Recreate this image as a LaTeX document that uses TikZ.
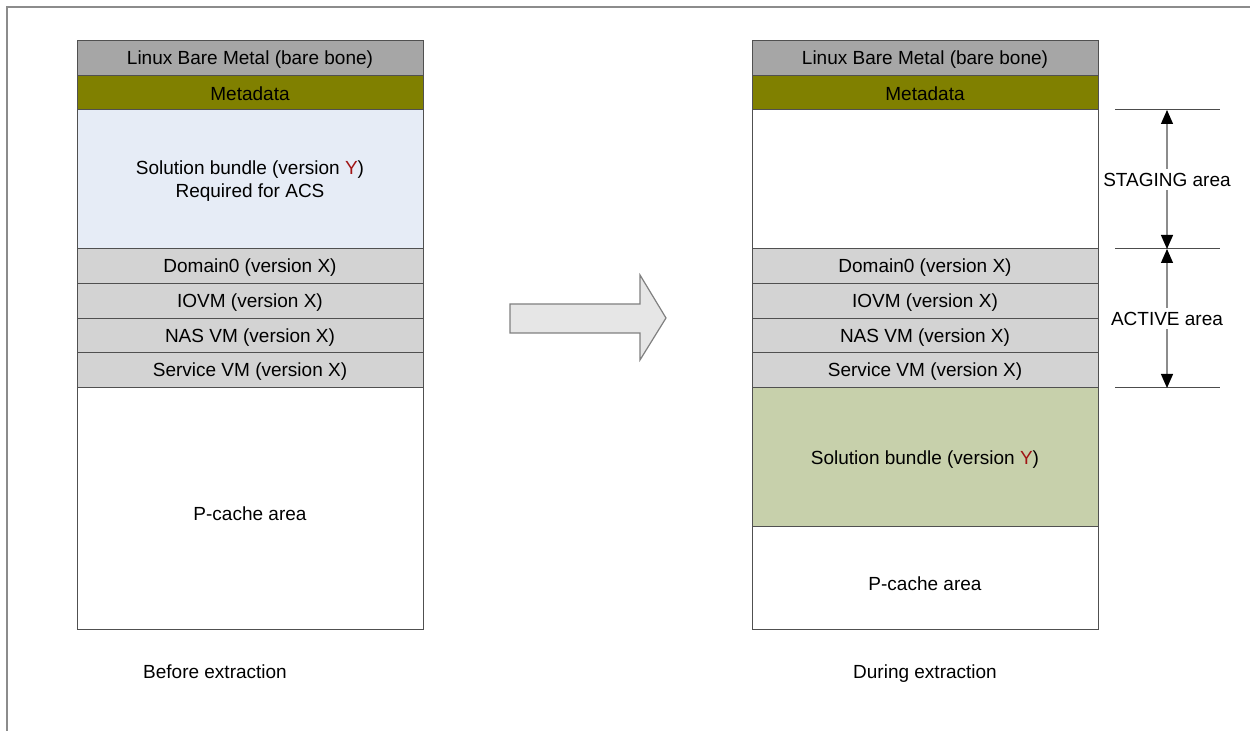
\documentclass[tikz,border=0pt]{standalone}
\usepackage{fontspec}
\setmainfont{Liberation Sans}
\usetikzlibrary{arrows.meta}
\definecolor{linuxgray}{HTML}{A6A6A6}
\definecolor{metaolive}{HTML}{808000}
\definecolor{solblue}{HTML}{E6ECF6}
\definecolor{vmgray}{HTML}{D3D3D3}
\definecolor{solgreen}{HTML}{C7D0AB}
\definecolor{yred}{HTML}{A01515}
\definecolor{framegray}{HTML}{8C8C8C}
\definecolor{boxline}{HTML}{505050}
\definecolor{arrowfill}{HTML}{E6E6E6}
\newcommand{\Yred}{\textcolor{yred}{Y}}
\newcommand{\dropby}[2]{\raisebox{-#1}[\height][\depth]{#2}}
\tikzset{
  layer/.style={draw=boxline, line width=0.5pt, inner sep=0pt, outer sep=0pt,
    minimum width=173pt, align=center, font=\fontsize{9.5}{11.5}\selectfont},
  caption/.style={inner sep=0pt, anchor=base, font=\fontsize{9.5}{11.5}\selectfont},
  tick/.style={draw=black!70, line width=0.5pt},
  dim/.style={draw=black!45, line width=0.6pt,
    {Triangle[length=7pt,width=6pt,color=black]}-{Triangle[length=7pt,width=6pt,color=black]}},
  dimlabel/.style={fill=white, inner sep=2pt, font=\fontsize{9.5}{11.5}\selectfont},
  bigarrow/.style={draw=black!50, fill=arrowfill, line width=0.6pt, line join=miter}
}
\begin{document}
\begin{tikzpicture}[x=0.5pt, y=-0.5pt]
\useasboundingbox (0,0) rectangle (1250,731);
% frame
\draw[framegray, line width=0.75pt] (1250,7) -- (7,7) -- (7,731);

% ---- left column ----
\node[layer, fill=linuxgray, minimum height=17.5pt] (l1) at (250,58.5) {\dropby{0.7pt}{Linux Bare Metal (bare bone)}};
\node[layer, fill=metaolive, minimum height=17pt] (l2) at (250,93) {\dropby{0.5pt}{Metadata}};
\node[layer, fill=solblue, minimum height=69.5pt] (l3) at (250,179.5) {\dropby{1pt}{Solution bundle (version \Yred)}\\\dropby{1pt}{Required for ACS}};
\node[layer, fill=vmgray, minimum height=17.5pt] (l4) at (250,266.5) {\dropby{0.7pt}{Domain0 (version X)}};
\node[layer, fill=vmgray, minimum height=17.5pt] (l5) at (250,301.5) {\dropby{0.7pt}{IOVM (version X)}};
\node[layer, fill=vmgray, minimum height=17pt] (l6) at (250,336) {\dropby{0.7pt}{NAS VM (version X)}};
\node[layer, fill=vmgray, minimum height=17.5pt] (l7) at (250,370.5) {\dropby{0.7pt}{Service VM (version X)}};
\node[layer, fill=white, minimum height=121pt] (l8) at (250,509) {\dropby{2.5pt}{P-cache area}};
\node[caption] (lcap) at (215,679) {Before extraction};

% ---- right column ----
\node[layer, fill=linuxgray, minimum height=17.5pt] (r1) at (925,58.5) {\dropby{0.7pt}{Linux Bare Metal (bare bone)}};
\node[layer, fill=metaolive, minimum height=17pt] (r2) at (925,93) {\dropby{0.5pt}{Metadata}};
\node[layer, fill=white, minimum height=69.5pt] (r3) at (925,179.5) {};
\node[layer, fill=vmgray, minimum height=17.5pt] (r4) at (925,266.5) {\dropby{0.7pt}{Domain0 (version X)}};
\node[layer, fill=vmgray, minimum height=17.5pt] (r5) at (925,301.5) {\dropby{0.7pt}{IOVM (version X)}};
\node[layer, fill=vmgray, minimum height=17pt] (r6) at (925,336) {\dropby{0.7pt}{NAS VM (version X)}};
\node[layer, fill=vmgray, minimum height=17.5pt] (r7) at (925,370.5) {\dropby{0.7pt}{Service VM (version X)}};
\node[layer, fill=solgreen, minimum height=69.5pt] (r8) at (925,457.5) {\dropby{0.8pt}{Solution bundle (version \Yred)}};
\node[layer, fill=white, minimum height=51.5pt] (r9) at (925,578.5) {\dropby{2.5pt}{P-cache area}};
\node[caption] (rcap) at (925,679) {During extraction};

% ---- big arrow ----
\draw[bigarrow] (510,304) -- (640,304) -- (640,275) -- (666,318) -- (640,360) -- (640,333) -- (510,333) -- cycle;

% ---- dimension lines ----
\coordinate (t1a) at (1115,110); \coordinate (t1b) at (1220,110);
\coordinate (t2a) at (1115,249); \coordinate (t2b) at (1220,249);
\coordinate (t3a) at (1115,388); \coordinate (t3b) at (1220,388);
\coordinate (d1) at (1167,110);
\coordinate (d2) at (1167,249);
\coordinate (d3) at (1167,388);
\draw[tick] (t1a) -- (t1b);
\draw[tick] (t2a) -- (t2b);
\draw[tick] (t3a) -- (t3b);
\draw[dim] (d1) -- (d2) node[dimlabel, midway] (stg) {STAGING area};
\draw[dim] (d2) -- (d3) node[dimlabel, midway] (act) {ACTIVE area};
\end{tikzpicture}
\end{document}
